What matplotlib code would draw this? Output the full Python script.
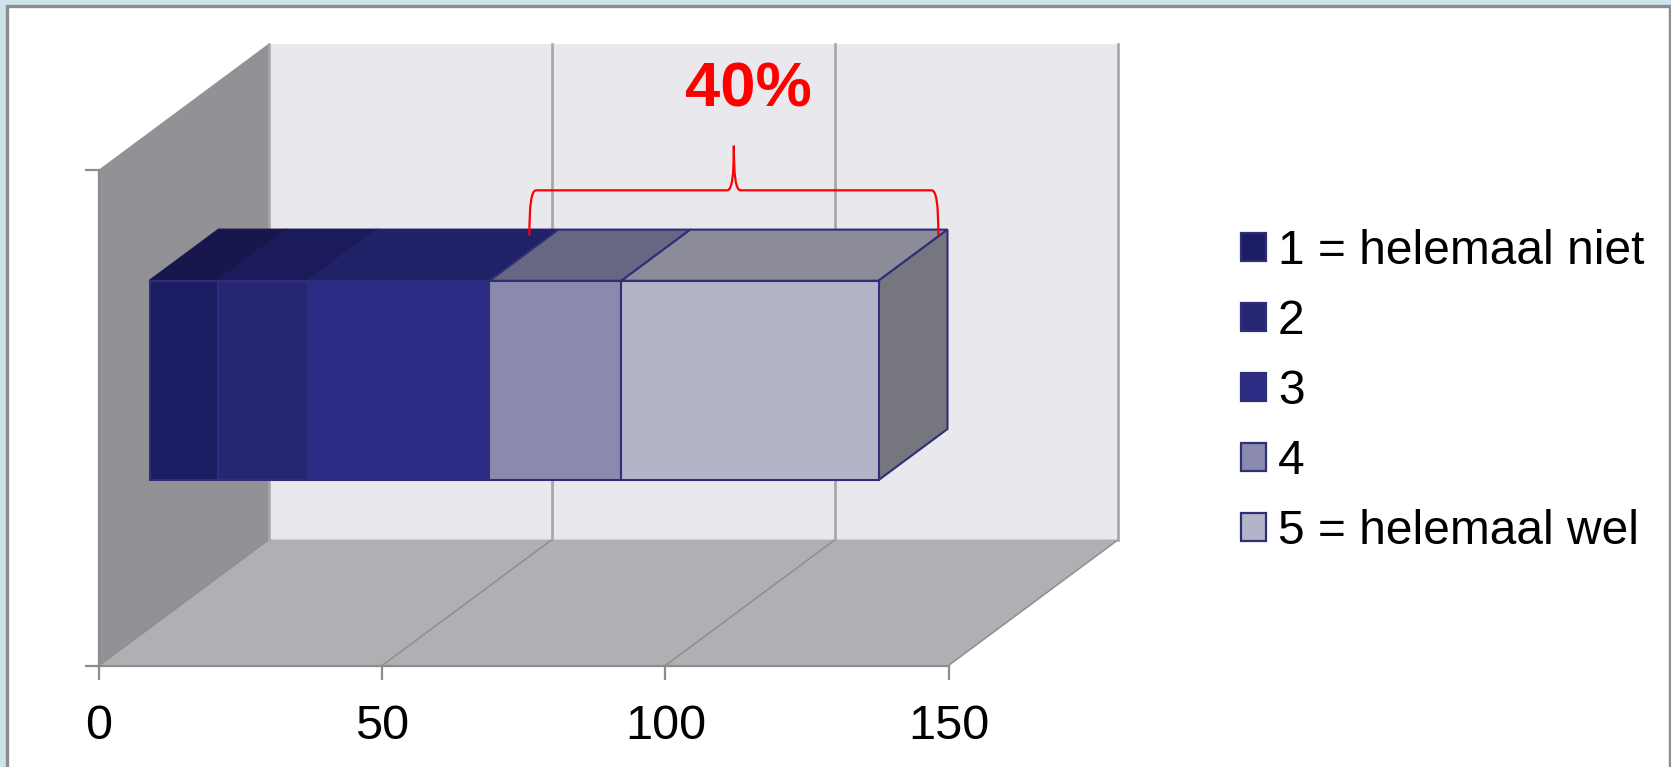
import matplotlib
matplotlib.use("Agg")
import matplotlib.pyplot as plt
import numpy as np
from matplotlib.patches import Patch, PathPatch, Polygon, Rectangle
from matplotlib.path import Path

plt.rcParams["font.family"] = ["Liberation Sans", "DejaVu Sans"]

# values
labels = ["1 = helemaal niet", "2", "3", "4", "5 = helemaal wel"]
values = [12, 16, 32, 23.3, 45.4]
x_ticks = [0, 50, 100, 150]

front_colors = ["#1c1c62", "#262675", "#2c2c87", "#8a8aae", "#b4b4c9"]
top_colors = ["#17174e", "#1b1b5c", "#212168", "#676783", "#8c8c99"]
side_color = "#76767e"
edge_color = "#2f2f78"

# 3d look: one unit of depth moves a point this far in data units
shear_x = 30.0
shear_y = 0.254
bar_front = 0.298
bar_back = 0.704
bar_low = 0.298
bar_high = 0.70


def project(x, y, d):
    return (x + d * shear_x, y + d * shear_y)


fig = plt.figure(figsize=(16.71, 7.67), dpi=100, facecolor="#cfe2ec")
# white slide panel
fig.patches.append(Rectangle((7 / 1671, -0.01), 1663 / 1671, 1.01 - 6 / 767, transform=fig.transFigure,
                             facecolor="white", edgecolor="#8c8c8c", linewidth=2.4, zorder=-1))

ax = fig.add_axes([99 / 1671, 101.5 / 767, 849.5 / 1671, 496 / 767])
ax.set_xlim(0, 150)
ax.set_ylim(0, 1)
ax.patch.set_visible(False)
ax.spines["top"].set_visible(False)
ax.spines["right"].set_visible(False)
ax.spines["left"].set_color("#8c8c8c")
ax.spines["bottom"].set_color("#8c8c8c")
ax.spines["left"].set_linewidth(1.6)
ax.spines["bottom"].set_linewidth(1.6)

# walls and floor
ax.add_patch(Polygon([project(0, 0, 0), project(0, 1, 0), project(0, 1, 1), project(0, 0, 1)],
                     facecolor="#929296", edgecolor="none", clip_on=False, zorder=0.5))
ax.add_patch(Polygon([project(0, 0, 1), project(0, 1, 1), project(150, 1, 1), project(150, 0, 1)],
                     facecolor="#e8e8ed", edgecolor="none", clip_on=False, zorder=0.5))
ax.add_patch(Polygon([project(0, 0, 0), project(0, 0, 1), project(150, 0, 1), project(150, 0, 0)],
                     facecolor="#b0b0b4", edgecolor="none", clip_on=False, zorder=0.6))

for t in x_ticks:
    p0 = project(t, 0, 0)
    p1 = project(t, 0, 1)
    p2 = project(t, 1, 1)
    ax.plot([p0[0], p1[0]], [p0[1], p1[1]], color="#8e8e8e", lw=1.1, clip_on=False, zorder=0.8)
    ax.plot([p1[0], p2[0]], [p1[1], p2[1]], color="#a6a6a6", lw=1.9, clip_on=False, zorder=0.8)

# stacked bar
starts = np.concatenate([[0], np.cumsum(values)[:-1]])
ends = np.cumsum(values)
for s, e, fc, tc in zip(starts, ends, front_colors, top_colors):
    ax.add_patch(Polygon([project(s, bar_high, bar_front), project(s, bar_high, bar_back),
                          project(e, bar_high, bar_back), project(e, bar_high, bar_front)],
                         facecolor=tc, edgecolor=edge_color if fc in front_colors[3:] else tc,
                         lw=1.5, clip_on=False, zorder=3))
    ax.add_patch(Rectangle(project(s, bar_low, bar_front), e - s, bar_high - bar_low,
                           facecolor=fc, edgecolor=edge_color, lw=1.5, clip_on=False, zorder=3.2))
e = ends[-1]
ax.add_patch(Polygon([project(e, bar_low, bar_front), project(e, bar_high, bar_front),
                      project(e, bar_high, bar_back), project(e, bar_low, bar_back)],
                     facecolor=side_color, edgecolor=edge_color, lw=1.5, clip_on=False, zorder=3.1))

# red brace over the two upper answers
brace_left = 76.0
brace_right = 148.2
brace_mid = 112.1
brace_foot = 0.867
brace_y = 0.958
brace_tip = 1.048
verts = [(brace_left, brace_foot), (brace_left, brace_y - 0.03), (brace_left + 0.3, brace_y), (brace_left + 1.2, brace_y),
         (brace_mid - 1.2, brace_y), (brace_mid - 0.3, brace_y), (brace_mid, brace_y + 0.03), (brace_mid, brace_tip),
         (brace_mid, brace_y + 0.03), (brace_mid + 0.3, brace_y), (brace_mid + 1.2, brace_y),
         (brace_right - 1.2, brace_y), (brace_right - 0.3, brace_y), (brace_right, brace_y - 0.03), (brace_right, brace_foot)]
codes = [Path.MOVETO, Path.CURVE4, Path.CURVE4, Path.CURVE4,
         Path.LINETO, Path.CURVE4, Path.CURVE4, Path.CURVE4,
         Path.CURVE4, Path.CURVE4, Path.CURVE4,
         Path.LINETO, Path.CURVE4, Path.CURVE4, Path.CURVE4]
ax.add_patch(PathPatch(Path(verts, codes), facecolor="none", edgecolor="#ff0000", lw=1.6, clip_on=False, zorder=5))
ax.text(114.6, 1.16, "40%", color="#ff0000", fontsize=45.5, fontweight="bold", ha="center", va="center", zorder=6)

ax.set_xticks(x_ticks)
ax.set_yticks([0, 1])
ax.set_yticklabels([])
ax.tick_params(axis="both", length=10, width=1.6, color="#8c8c8c")
ax.tick_params(axis="x", labelsize=35, pad=18, labelcolor="black")

handles = [Patch(facecolor=c, edgecolor=edge_color, linewidth=1.6, label=l) for c, l in zip(front_colors, labels)]
fig.legend(handles=handles, loc="upper left", bbox_to_anchor=(1241 / 1671, 1 - 229 / 767), frameon=False,
           fontsize=34.5, handlelength=0.52, handleheight=0.52, handletextpad=0.25, labelspacing=0.52,
           borderpad=0, borderaxespad=0)

fig.savefig("out.png", dpi=100, facecolor=fig.get_facecolor())
